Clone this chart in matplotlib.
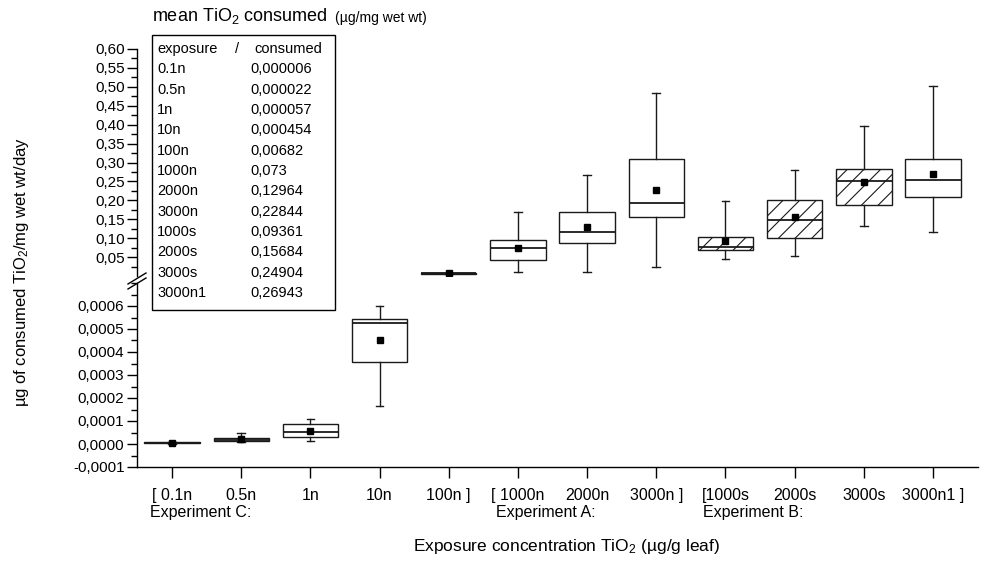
import matplotlib
matplotlib.use('Agg')
import matplotlib.pyplot as plt
import matplotlib.transforms as mtransforms
from matplotlib.lines import Line2D
from matplotlib.patches import Rectangle
from matplotlib.ticker import FixedLocator, MultipleLocator, FuncFormatter
import numpy as np

plt.rcParams['font.family'] = ['Liberation Sans', 'DejaVu Sans']
plt.rcParams['mathtext.fontset'] = 'custom'
plt.rcParams['mathtext.rm'] = 'Liberation Sans'
plt.rcParams['mathtext.it'] = 'Liberation Sans:italic'
plt.rcParams['hatch.linewidth'] = 0.8

# data
exposure = ['0.1n', '0.5n', '1n', '10n', '100n', '1000n', '2000n', '3000n',
            '1000s', '2000s', '3000s', '3000n1']
tick_labels = ['[ 0.1n', '0.5n', '1n', '10n', '100n ]', '[ 1000n', '2000n', '3000n ]',
               '[1000s', '2000s', '3000s', '3000n1 ]']
whis_lo = [0.000002, 0.000007, 0.000012, 0.000165, 0.0058, 0.0093, 0.010, 0.024,
           0.044, 0.052, 0.131, 0.115]
q1 = [0.000004, 0.000013, 0.000029, 0.000357, 0.0060, 0.0436, 0.086, 0.156,
      0.070, 0.101, 0.187, 0.210]
median = [0.000005, 0.000019, 0.0000535, 0.000528, 0.0068, 0.0744, 0.116, 0.193,
          0.077, 0.149, 0.252, 0.253]
q3 = [0.000007, 0.000025, 0.000087, 0.000542, 0.0076, 0.0955, 0.168, 0.310,
      0.103, 0.202, 0.284, 0.310]
whis_hi = [0.000009, 0.000048, 0.00011, 0.000601, 0.0080, 0.169, 0.266, 0.485,
           0.199, 0.281, 0.397, 0.501]
means = [0.000006, 0.000022, 0.000057, 0.000454, 0.00682, 0.073, 0.12964, 0.22844,
         0.09361, 0.15684, 0.24904, 0.26943]
hatched = [False, False, False, False, False, False, False, False, True, True, True, False]
experiments = ['Experiment C:', 'Experiment A:', 'Experiment B:']
experiment_start = [1, 6, 9]
n_lower = 4  # first four groups sit on the lower (small) scale

W, H = 995, 563


def fx(px):
    return px / W


def fy(py):
    return 1 - py / H


fig = plt.figure(figsize=(9.95, 5.63), dpi=100)
ax_top = fig.add_axes([fx(137), fy(276), fx(978) - fx(137), fy(49) - fy(276)])
ax_bot = fig.add_axes([fx(137), fy(467), fx(978) - fx(137), fy(283) - fy(467)])

positions = np.arange(1, len(exposure) + 1)
stats = []
for i in range(len(exposure)):
    stats.append(dict(med=median[i], q1=q1[i], q3=q3[i], whislo=whis_lo[i],
                      whishi=whis_hi[i], mean=means[i], fliers=[]))

edge = '#1a1a1a'
common = dict(widths=0.8, patch_artist=True, showmeans=True, showfliers=False,
              manage_ticks=False, capwidths=0.11,
              meanprops=dict(marker='s', markerfacecolor='black', markeredgecolor='black',
                             markersize=4.5),
              medianprops=dict(color=edge, linewidth=1.3),
              boxprops=dict(facecolor='white', edgecolor=edge, linewidth=1.0),
              whiskerprops=dict(color=edge, linewidth=1.0),
              capprops=dict(color=edge, linewidth=1.0))

low = ax_bot.bxp(stats[:n_lower], positions=positions[:n_lower], **common)
high = ax_top.bxp(stats[n_lower:], positions=positions[n_lower:], **common)
for box, h in zip(high['boxes'], hatched[n_lower:]):
    if h:
        box.set_hatch('//')

xlim = (0.494, 12.65)
for ax in (ax_top, ax_bot):
    ax.set_xlim(*xlim)
    ax.spines['top'].set_visible(False)
    ax.spines['right'].set_visible(False)
    ax.tick_params(axis='y', which='major', direction='out', length=7, width=1,
                   labelsize=11, pad=2)
    ax.tick_params(axis='y', which='minor', direction='out', length=4, width=1)
    for s in ax.spines.values():
        s.set_linewidth(1.0)

ax_top.spines['bottom'].set_visible(False)
ax_top.set_ylim(0, 0.60)
ax_top.yaxis.set_major_locator(FixedLocator(np.round(np.arange(0.05, 0.601, 0.05), 2)))
ax_top.yaxis.set_minor_locator(FixedLocator(np.round(np.arange(0.025, 0.601, 0.025), 3)))
ax_top.yaxis.set_major_formatter(FuncFormatter(lambda v, p: f'{v:.2f}'.replace('.', ',')))
ax_top.set_xticks([])

ax_bot.set_ylim(-0.0001, 0.0007)
ax_bot.yaxis.set_major_locator(FixedLocator(np.round(np.arange(-0.0001, 0.00061, 0.0001), 4)))
ax_bot.yaxis.set_minor_locator(MultipleLocator(0.00005))


def fmt_low(v, p):
    s = f'{v:.4f}'.replace('.', ',')
    return '0,0000' if s == '-0,0000' else s


ax_bot.yaxis.set_major_formatter(FuncFormatter(fmt_low))
ax_bot.set_xticks(positions, tick_labels)
ax_bot.tick_params(axis='x', direction='out', length=8, width=1, pad=7, labelsize=11.5)

# experiment names under the tick labels
trans = mtransforms.blended_transform_factory(ax_bot.transData, fig.transFigure)
for name, start in zip(experiments, experiment_start):
    ax_bot.text(start - 0.32, fy(512), name, transform=trans, ha='left', va='center',
                fontsize=11.5)

# axis break marks
for dy in (0, 5):
    fig.add_artist(Line2D([fx(128), fx(146)], [fy(284 + dy), fy(273 + dy)],
                          color='black', lw=1.0))

# table of means
fig.add_artist(Rectangle((fx(152), fy(310)), fx(335) - fx(152), fy(35) - fy(310),
                         transform=fig.transFigure, facecolor='white',
                         edgecolor='black', lw=1.0))
row_y = 49
fig.text(fx(157), fy(row_y), 'exposure', fontsize=10.5, va='center')
fig.text(fx(235), fy(row_y), '/', fontsize=10.5, va='center')
fig.text(fx(254), fy(row_y), 'consumed', fontsize=10.5, va='center')
for i, (name, m) in enumerate(zip(exposure, means)):
    y = row_y + (i + 1) * 20.33
    fig.text(fx(157), fy(y), name, fontsize=10.5, va='center')
    fig.text(fx(250), fy(y), f'{m:.6f}'.rstrip('0').replace('.', ','),
             fontsize=10.5, va='center')

fig.text(fx(152), fy(16), 'mean TiO$_2$ consumed', fontsize=13, va='center')
fig.text(fx(335), fy(18), '(µg/mg wet wt)', fontsize=10, va='center')

fig.text(fx(22), fy(272), 'µg of consumed TiO$_2$/mg wet wt/day', rotation=90,
         ha='center', va='center', fontsize=12)
fig.text(fx(567), fy(546), 'Exposure concentration TiO$_2$ (µg/g leaf)',
         ha='center', va='center', fontsize=12.5)

fig.savefig('out.png', dpi=100)
